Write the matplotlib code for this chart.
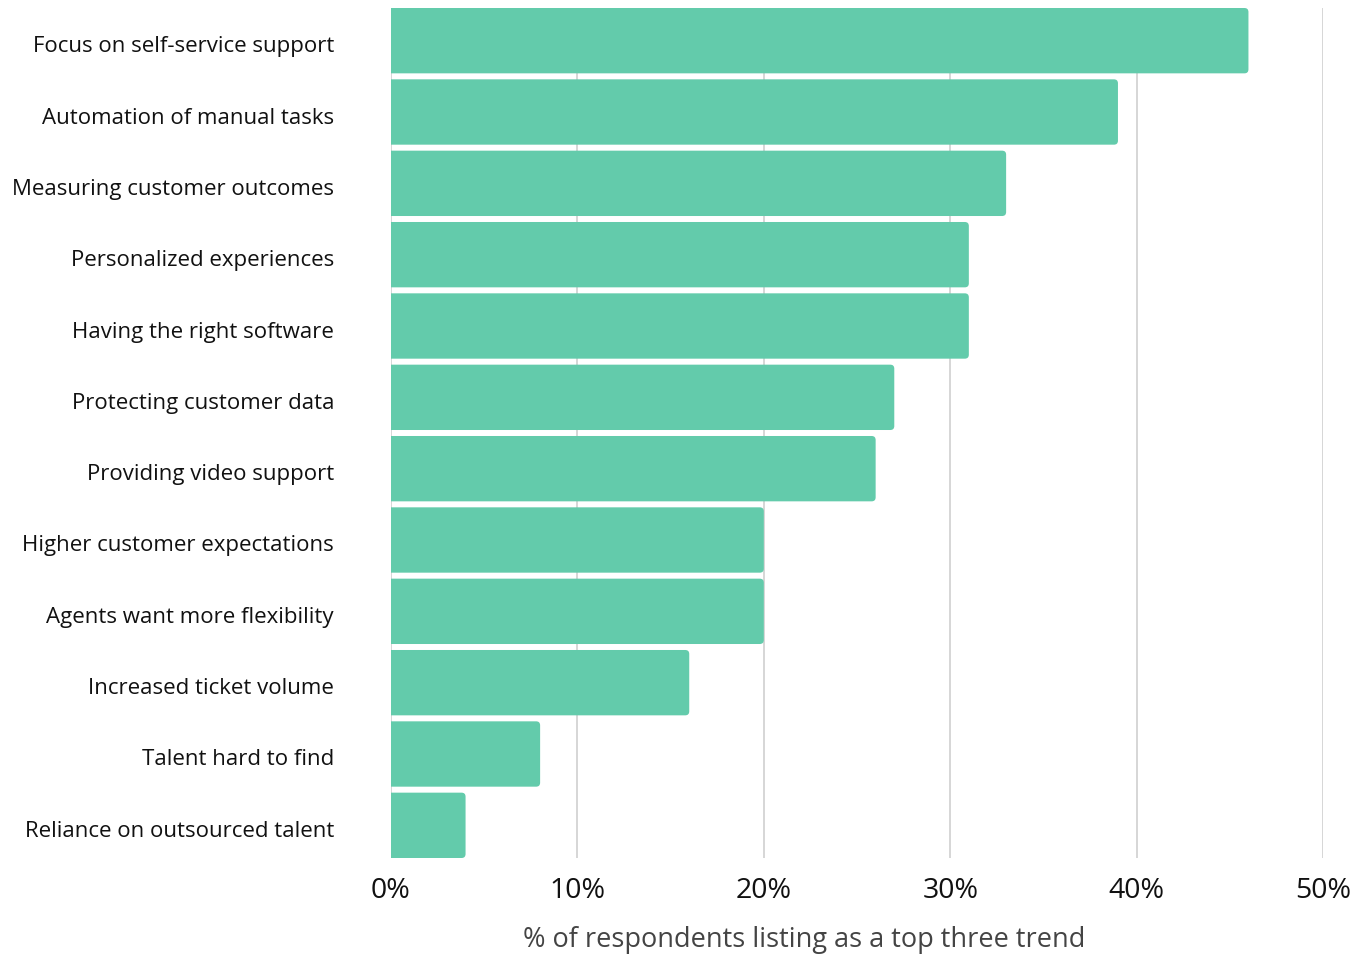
import matplotlib
matplotlib.use("Agg")
import matplotlib.pyplot as plt
import matplotlib.transforms as mtransforms
from matplotlib.patches import FancyBboxPatch

categories = [
    "Focus on self-service support",
    "Automation of manual tasks",
    "Measuring customer outcomes",
    "Personalized experiences",
    "Having the right software",
    "Protecting customer data",
    "Providing video support",
    "Higher customer expectations",
    "Agents want more flexibility",
    "Increased ticket volume",
    "Talent hard to find",
    "Reliance on outsourced talent",
]
values = [46, 39, 33, 31, 31, 27, 26, 20, 20, 16, 8, 4]
xticks = [0, 10, 20, 30, 40, 50]
xtick_labels = ["0%", "10%", "20%", "30%", "40%", "50%"]

plt.rcParams["font.family"] = ["Open Sans", "DejaVu Sans"]

fig = plt.figure(figsize=(13.72, 9.55), dpi=100)
ax = fig.add_axes([391 / 1372, 1 - 858 / 955, (1323 - 391) / 1372, 850 / 955])

bar_h = 0.916
color = "#63cbab"
xmax = 50
ax.set_xlim(0, xmax)
ax.set_ylim(len(values) - 1 + bar_h / 2, -bar_h / 2)

# px per data unit, for rounding the bar ends evenly
x_per_px = xmax / 932
y_per_px = (len(values) - 1 + bar_h) / 850
aspect = y_per_px / x_per_px
r = 4 * x_per_px

for i, v in enumerate(values):
    box = FancyBboxPatch((-1, i - bar_h / 2), v + 1, bar_h,
                         boxstyle=f"round,pad=0,rounding_size={r}",
                         mutation_aspect=aspect, facecolor=color,
                         edgecolor="none", zorder=3)
    ax.add_patch(box)

ax.set_xticks(xticks)
ax.set_xticklabels(xtick_labels, fontsize=20.5, color="#111111")
ax.set_yticks(range(len(categories)))
ax.set_yticklabels([])
ax.tick_params(axis="y", length=0)
ax.tick_params(axis="x", length=0, pad=14)

# category labels, nudged a little below bar centre like the original
trans = mtransforms.blended_transform_factory(ax.transAxes, ax.transData)
trans = trans + mtransforms.ScaledTranslation(-0.57, -0.06, fig.dpi_scale_trans)
for i, name in enumerate(categories):
    ax.text(0, i, name, transform=trans, ha="right", va="center",
            fontsize=16, color="#111111")

ax.grid(axis="x", color="#d0d0d0", linewidth=1.2, zorder=0)
ax.set_axisbelow(True)
for s in ax.spines.values():
    s.set_visible(False)

fig.text(804 / 1372, 1 - 940 / 955, "% of respondents listing as a top three trend",
         fontsize=19.5, color="#444444", ha="center", va="center")

fig.savefig("out.png", dpi=100)
